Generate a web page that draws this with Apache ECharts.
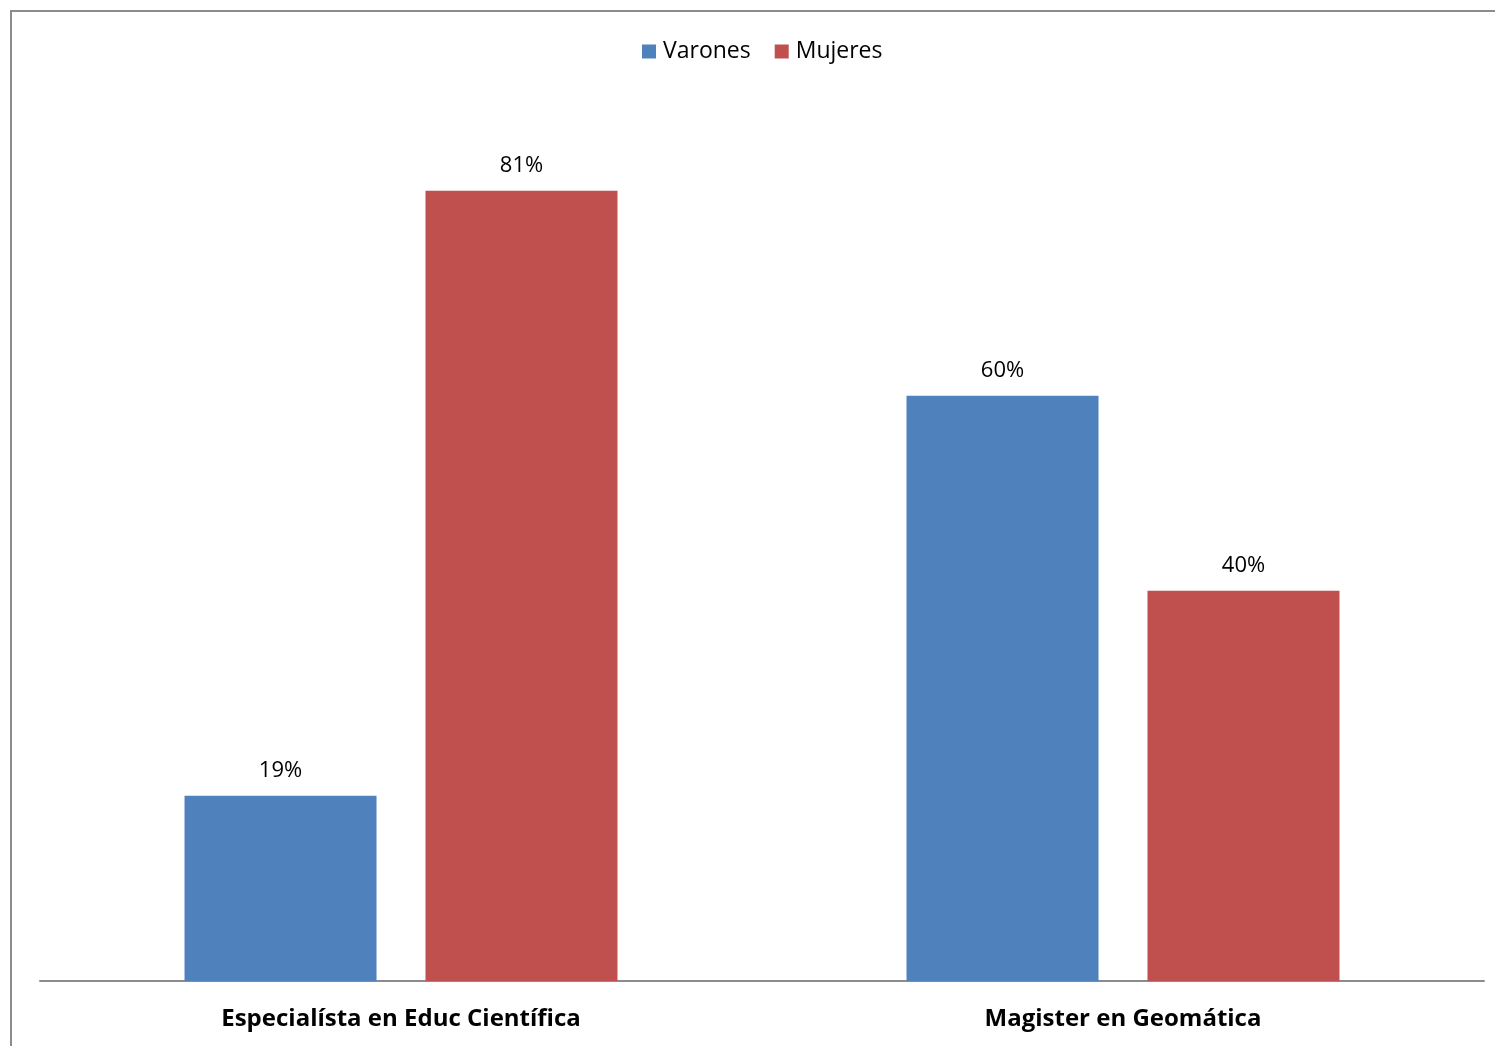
<!DOCTYPE html>
<html>
<head>
<meta charset="utf-8">
<script src="https://cdn.jsdelivr.net/npm/echarts@6/dist/echarts.min.js"></script>
<style>
  html, body { margin: 0; padding: 0; background: #fff; }
  #frame { position: absolute; left: 10px; top: 10px; width: 1485px; height: 1036px;
           border-top: 2px solid #8c8c8c; border-left: 2px solid #8c8c8c; box-sizing: border-box; }
  #myBar { position: absolute; left: 0; top: 0; width: 1495px; height: 1046px; }
</style>
</head>
<body>
<div id="frame"></div>
<div id="myBar"></div>
<script>
const categories = ['Especialísta en Educ Científica', 'Magister en Geomática'];
const varones = [19, 60];
const mujeres = [81, 40];

let myChart = echarts.init(document.getElementById('myBar'));
const fontFamily = '"Open Sans", "Noto Sans", sans-serif';
let labelStyle = {
    show: true,
    position: 'top',
    distance: 14,
    formatter: '{c}%',
    color: '#000',
    fontSize: 22,
    fontFamily: fontFamily
};
let option = {
    animation: false,
    legend: {
        top: 35,
        left: 637,
        data: ['Varones', 'Mujeres'],
        icon: 'rect',
        itemWidth: 14,
        itemHeight: 14,
        itemGap: 24,
        textStyle: {
            color: '#000',
            fontSize: 23,
            fontFamily: fontFamily,
            padding: [0, 0, 0, 2]
        }
    },
    grid: {
        left: 40,
        right: 11,
        top: 103,
        bottom: 65
    },
    xAxis: {
        type: 'category',
        data: categories,
        axisLine: { lineStyle: { color: '#8c8c8c', width: 2 } },
        axisTick: { show: false },
        axisLabel: {
            color: '#000',
            fontSize: 24,
            fontWeight: 'bold',
            fontFamily: fontFamily,
            margin: 26
        }
    },
    yAxis: {
        type: 'value',
        min: 0,
        max: 90,
        show: false,
        splitLine: { show: false }
    },
    series: [
        {
            name: 'Varones',
            type: 'bar',
            barWidth: 192,
            barGap: '25.5%',
            itemStyle: { color: '#4f81bd' },
            label: labelStyle,
            data: varones
        },
        {
            name: 'Mujeres',
            type: 'bar',
            barWidth: 192,
            barGap: '25.5%',
            itemStyle: { color: '#c0504d' },
            label: labelStyle,
            data: mujeres
        }
    ]
};
myChart.setOption(option, true);
</script>
</body>
</html>
